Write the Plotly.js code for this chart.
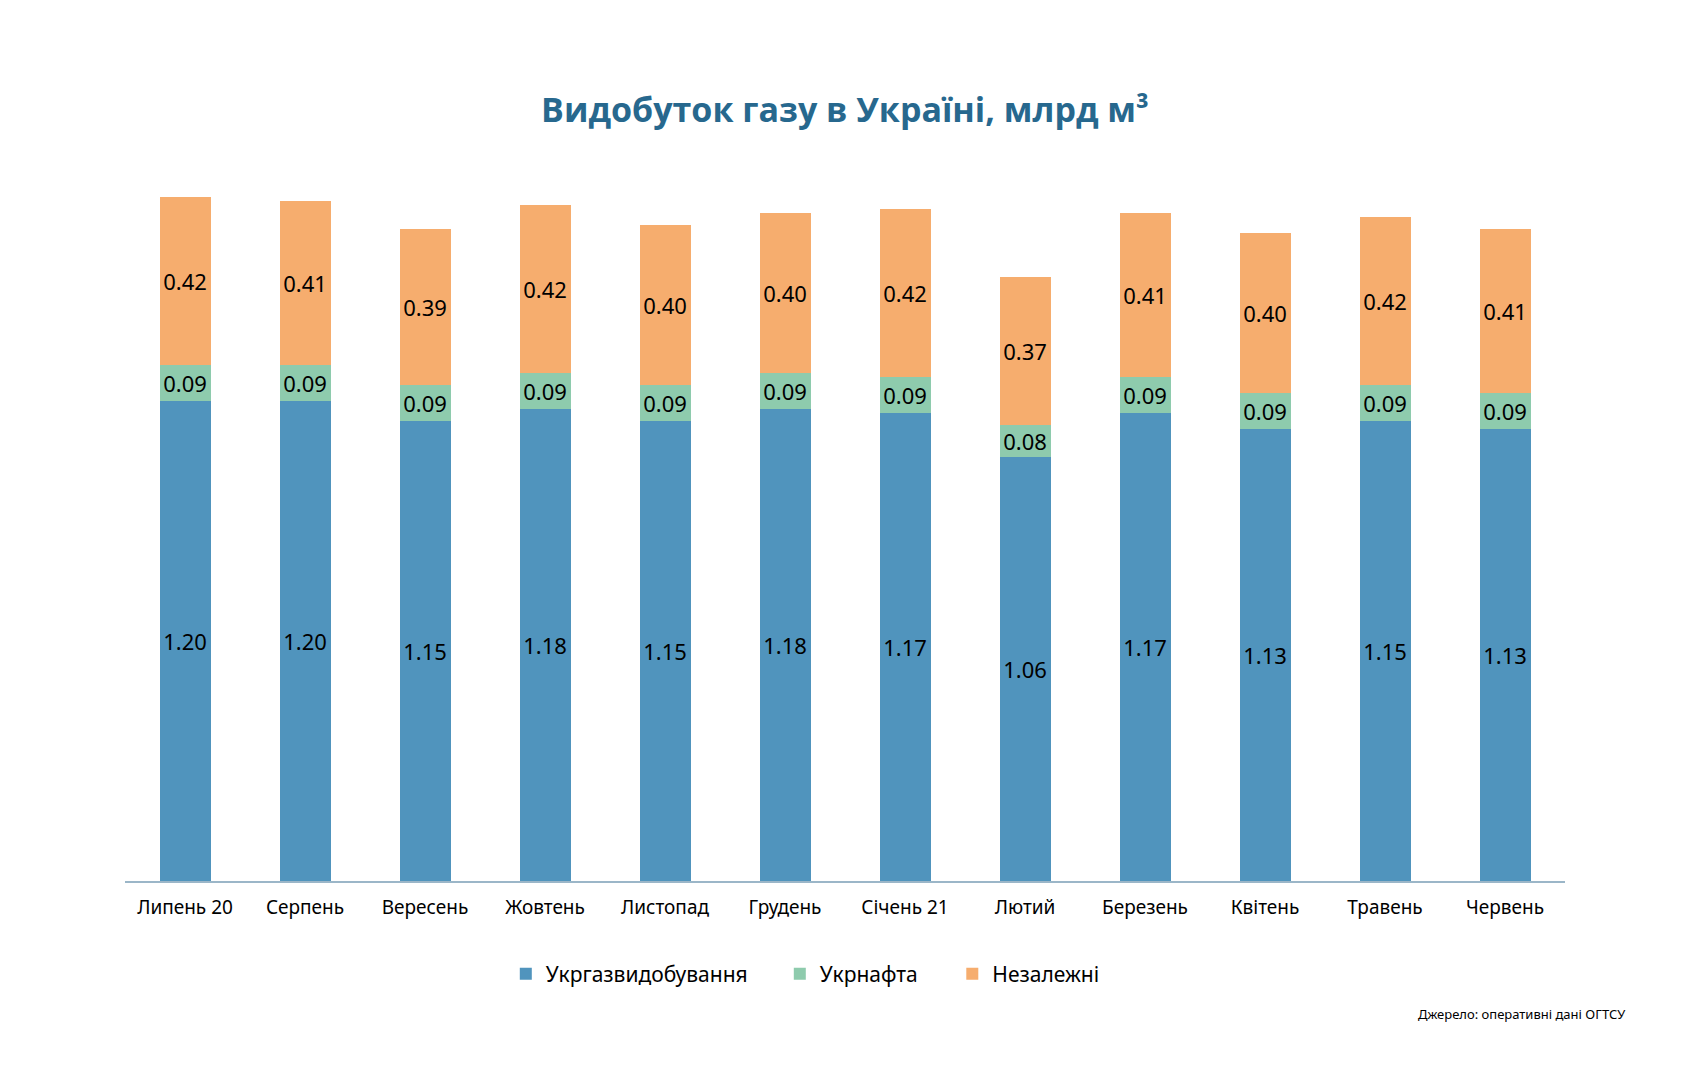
<!DOCTYPE html>
<html>
<head>
<meta charset="utf-8">
<script src="https://cdn.plot.ly/plotly-3.0.1.min.js"></script>
<style>
  html, body { margin: 0; padding: 0; background: #ffffff; }
  #chart { width: 1684px; height: 1080px; }
</style>
</head>
<body>
<div id="chart"></div>
<script>
// Monthly gas production in Ukraine, bcm, by producer
const months = ['Липень 20', 'Серпень', 'Вересень', 'Жовтень', 'Листопад', 'Грудень',
                'Січень 21', 'Лютий', 'Березень', 'Квітень', 'Травень', 'Червень'];
const ukrgasvydobuvannia = [1.20, 1.20, 1.15, 1.18, 1.15, 1.18, 1.17, 1.06, 1.17, 1.13, 1.15, 1.13];
const ukrnafta           = [0.09, 0.09, 0.09, 0.09, 0.09, 0.09, 0.09, 0.08, 0.09, 0.09, 0.09, 0.09];
const independents       = [0.42, 0.41, 0.39, 0.42, 0.40, 0.40, 0.42, 0.37, 0.41, 0.40, 0.42, 0.41];
const seriesNames = ['Укргазвидобування', 'Укрнафта', 'Незалежні'];

const colors = ['#5094bd', '#8ecbad', '#f6ad6e'];
const labelFont = { family: 'Noto Sans, sans-serif', size: 22, color: '#000000' };
const legendIds = ['legend', 'legend2', 'legend3'];

function barTrace(values, i) {
  return {
    type: 'bar',
    x: months,
    y: values,
    name: seriesNames[i],
    legend: legendIds[i],
    marker: { color: colors[i], line: { width: 0 } },
    text: values.map(v => v.toFixed(2)),
    textposition: 'inside',
    insidetextanchor: 'middle',
    constraintext: 'none',
    textfont: labelFont,
    hoverinfo: 'x+y+name'
  };
}

const data = [
  barTrace(ukrgasvydobuvannia, 0),
  barTrace(ukrnafta, 1),
  barTrace(independents, 2)
];

const plotLeft = 124.7, plotRight = 1564.7, plotTop = 81, plotBottom = 881;
const plotW = plotRight - plotLeft, plotH = plotBottom - plotTop;
const px2x = px => (px - plotLeft) / plotW;
const px2y = py => (plotBottom - py) / plotH;

// one legend box per series, so each entry sits at its own spot
const legendSymbolCenters = [530.5, 804.5, 977];
function legendBox(cx) {
  return {
    orientation: 'h',
    x: px2x(cx - 25),
    xanchor: 'left',
    y: px2y(974),
    yanchor: 'middle',
    font: { family: 'Noto Sans, sans-serif', size: 21, color: '#000000' },
    itemwidth: 30,
    bgcolor: 'rgba(0,0,0,0)',
    borderwidth: 0
  };
}

const layout = {
  width: 1684,
  height: 1080,
  paper_bgcolor: '#ffffff',
  plot_bgcolor: '#ffffff',
  barmode: 'stack',
  bargap: 0.575,
  margin: { l: plotLeft, r: 1684 - plotRight, t: plotTop, b: 1080 - plotBottom, pad: 0 },
  title: {
    text: 'Видобуток газу в Україні, млрд м³',
    font: { family: 'Open Sans, sans-serif', size: 34, weight: 700, color: '#27688e' },
    x: 0.5, xref: 'paper', xanchor: 'center',
    y: 1 - 110 / 1080, yref: 'container', yanchor: 'middle'
  },
  xaxis: {
    type: 'category',
    range: [-0.5, 11.5],
    showgrid: false,
    zeroline: false,
    showline: true,
    linecolor: '#9bb6c8',
    linewidth: 1.5,
    ticks: '',
    ticklabelstandoff: 9,
    tickfont: { family: 'Noto Sans, sans-serif', size: 19, color: '#000000' },
    fixedrange: true
  },
  yaxis: {
    range: [0, 2],
    showgrid: false,
    zeroline: false,
    showline: false,
    showticklabels: false,
    ticks: '',
    fixedrange: true
  },
  showlegend: true,
  legend: legendBox(legendSymbolCenters[0]),
  legend2: legendBox(legendSymbolCenters[1]),
  legend3: legendBox(legendSymbolCenters[2]),
  annotations: [{
    text: 'Джерело: оперативні дані ОГТСУ',
    xref: 'paper', yref: 'paper',
    x: px2x(1628),
    y: px2y(1014),
    xanchor: 'right', yanchor: 'middle',
    showarrow: false,
    font: { family: 'Noto Sans, sans-serif', size: 13, color: '#000000' }
  }]
};

Plotly.newPlot('chart', data, layout, { displayModeBar: false, staticPlot: true });
</script>
</body>
</html>
